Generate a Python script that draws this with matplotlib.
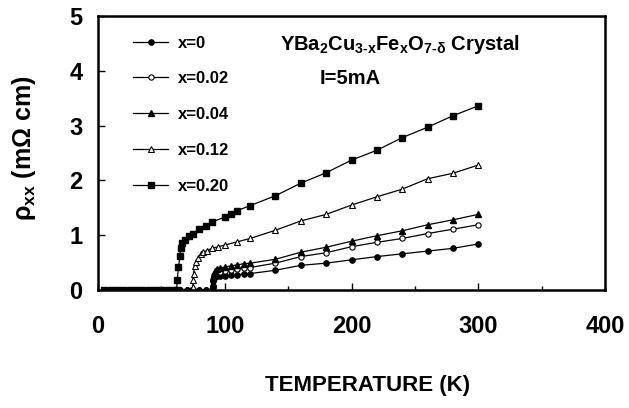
import numpy as np
import matplotlib
matplotlib.use('Agg')
import matplotlib.pyplot as plt

#fonts: bold arial-like text everywhere
plt.rcParams['font.family'] = ['Liberation Sans', 'DejaVu Sans']
plt.rcParams['font.weight'] = 'bold'
plt.rcParams['mathtext.fontset'] = 'custom'
plt.rcParams['mathtext.rm'] = 'Liberation Sans:bold'
plt.rcParams['mathtext.it'] = 'Liberation Sans:bold'
plt.rcParams['mathtext.bf'] = 'Liberation Sans:bold'

#baseline (superconducting) temperatures
t_low = [5, 10, 15, 20, 25, 30, 35, 40, 45, 50, 55, 60]
t_mid = [65, 70, 75, 80, 85]

#x=0
t_x0 = t_low + t_mid + [90, 90.5, 91, 91.5, 92.5, 94, 96, 100, 105, 110, 115, 120, 140, 160, 180, 200, 220, 240, 260, 280, 300]
r_x0 = [0]*17 + [0.0, 0.07, 0.17, 0.22, 0.24, 0.25, 0.25, 0.26, 0.27, 0.28, 0.29, 0.30, 0.36, 0.45, 0.49, 0.55, 0.61, 0.66, 0.71, 0.76, 0.84]

#x=0.02
t_x002 = t_low + t_mid + [90, 90.5, 91, 91.5, 92.5, 94, 96, 100, 105, 110, 115, 120, 140, 160, 180, 200, 220, 240, 260, 280, 300]
r_x002 = [0]*17 + [0.0, 0.08, 0.20, 0.27, 0.30, 0.32, 0.33, 0.34, 0.36, 0.38, 0.40, 0.41, 0.49, 0.61, 0.68, 0.79, 0.87, 0.94, 1.03, 1.11, 1.19]

#x=0.04
t_x004 = t_low + t_mid + [90, 90.5, 91, 91.5, 92.5, 94, 96, 100, 105, 110, 115, 120, 140, 160, 180, 200, 220, 240, 260, 280, 300]
r_x004 = [0]*17 + [0.0, 0.10, 0.22, 0.30, 0.35, 0.38, 0.40, 0.42, 0.44, 0.46, 0.48, 0.49, 0.56, 0.69, 0.78, 0.89, 0.99, 1.08, 1.19, 1.28, 1.38]

#x=0.12
t_x012 = t_low + [65, 70, 74.8, 75.0, 75.4, 76.2, 77.5, 79, 81, 83, 86, 90, 95, 100, 110, 120, 140, 160, 180, 200, 220, 240, 260, 280, 300]
r_x012 = [0]*12 + [0, 0, 0.05, 0.18, 0.30, 0.43, 0.52, 0.59, 0.65, 0.69, 0.72, 0.76, 0.79, 0.82, 0.88, 0.94, 1.09, 1.26, 1.38, 1.55, 1.70, 1.84, 2.03, 2.13, 2.28]

#x=0.20
t_x020 = t_low + [62.0, 62.5, 63.5, 64.7, 65.2, 66.5, 69, 72, 75, 80, 85, 90, 100, 105, 110, 120, 140, 160, 180, 200, 220, 240, 260, 280, 300]
r_x020 = [0]*12 + [0.0, 0.18, 0.42, 0.62, 0.76, 0.85, 0.92, 0.98, 1.03, 1.11, 1.17, 1.24, 1.33, 1.39, 1.45, 1.54, 1.72, 1.95, 2.14, 2.37, 2.55, 2.78, 2.97, 3.18, 3.36]

labels = ['x=0', 'x=0.02', 'x=0.04', 'x=0.12', 'x=0.20']

fig = plt.figure(figsize=(6.29, 4.08), dpi=100)
ax = fig.add_axes([98/629, 1-290/408, 507/629, 274/408])

ms = 3.8
lw = 0.9
ax.plot(t_x0, r_x0, 'k-', marker='o', ms=ms, lw=lw, mfc='k', label=labels[0])
ax.plot(t_x002, r_x002, 'k-', marker='o', ms=ms, lw=lw, mfc='white', mew=0.8, label=labels[1])
ax.plot(t_x004, r_x004, 'k-', marker='^', ms=ms+0.5, lw=lw, mfc='k', label=labels[2])
ax.plot(t_x012, r_x012, 'k-', marker='^', ms=ms+0.5, lw=lw, mfc='white', mew=0.8, label=labels[3])
ax.plot(t_x020, r_x020, 'k-', marker='s', ms=ms, lw=lw, mfc='k', label=labels[4])

ax.set_xlim(0, 400)
ax.set_ylim(0, 5)
ax.set_xticks([0, 100, 200, 300, 400])
ax.set_xticks([50, 150, 250, 350], minor=True)
ax.set_yticks([0, 1, 2, 3, 4, 5])
ax.tick_params(axis='both', which='both', direction='in', top=False, right=False)
ax.tick_params(axis='both', which='major', length=5, width=1, labelsize=17)
ax.tick_params(axis='x', which='minor', length=3, width=1)
ax.tick_params(axis='x', which='major', pad=18)
ax.tick_params(axis='y', which='major', pad=11)
for s in ax.spines.values():
    s.set_linewidth(1.8)

ax.legend(loc='upper left', bbox_to_anchor=(133/629, 1-35.5/408), bbox_transform=fig.transFigure,
          frameon=False, fontsize=12, borderpad=0, handlelength=2.1, handletextpad=0.6,
          labelspacing=1.25, borderaxespad=0)

fig.text(280/629, 1-45/408, r'YBa$_2$Cu$_{3\text{-}x}$Fe$_x$O$_{7\text{-}\delta}$ Crystal',
         fontsize=14.5, fontweight='bold', va='center', ha='left')
fig.text(320/629, 1-78/408, 'I=5mA', fontsize=14.5, fontweight='bold', va='center', ha='left')

fig.text(24/629, 1-148/408, r'ρ$_{\mathrm{xx}}$ (mΩ cm)', rotation=90, fontsize=18,
         fontweight='bold', va='center', ha='center')
fig.text(368/629, 1-385/408, 'TEMPERATURE (K)', fontsize=16, fontweight='bold',
         va='center', ha='center')

plt.savefig('out.png', dpi=100)
